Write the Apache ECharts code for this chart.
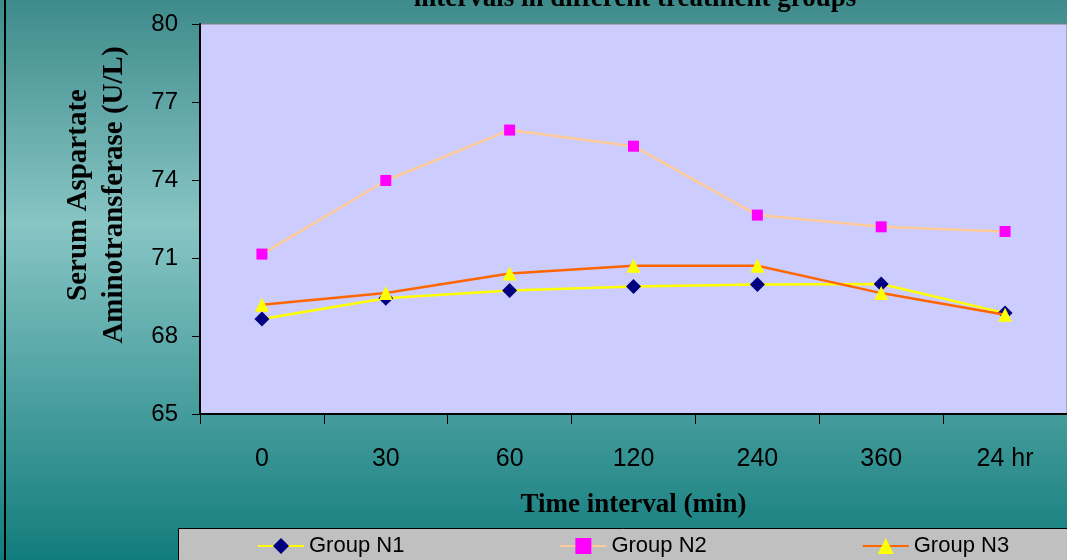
<!DOCTYPE html>
<html><head><meta charset="utf-8">
<script src="https://cdn.jsdelivr.net/npm/echarts@6/dist/echarts.min.js"></script>
<style>html,body{margin:0;padding:0;}#c{width:1067px;height:560px;}</style>
</head><body><div id="c"></div>
<script>
const categories = ['0', '30', '60', '120', '240', '360', '24 hr'];
const groupN1 = [68.65, 69.45, 69.75, 69.9, 69.98, 70.0, 68.88];
const groupN2 = [71.15, 73.98, 75.92, 75.3, 72.65, 72.2, 72.02];
const groupN3 = [69.2, 69.65, 70.4, 70.7, 70.7, 69.65, 68.82];
const yMin = 65, yMax = 80, yStep = 3;
const titleText = 'intervals in different treatment groups';
const yName = 'Serum Aspartate\nAminotransferase (U/L)';
const xName = 'Time interval (min)';

const chart = echarts.init(document.getElementById('c'));
chart.setOption({
  animation: false,
  backgroundColor: {
    type: 'linear', x: 0, y: 0, x2: 0, y2: 1,
    colorStops: [
      {offset: 0, color: '#3E8B8B'},
      {offset: 0.4, color: '#88C5C5'},
      {offset: 1, color: '#127C7C'}
    ]
  },
  title: {
    text: titleText, left: 630, textAlign: 'center', top: -19,
    textStyle: {fontFamily: 'Liberation Serif', fontWeight: 'bold', fontSize: 27, color: '#000'}
  },
  graphic: [
    {type: 'line', shape: {x1: 5, y1: 0, x2: 5, y2: 560}, style: {stroke: '#000', lineWidth: 2}, z: 10},
    {type: 'rect', shape: {x: 178.5, y: 528.5, width: 1000, height: 60}, style: {fill: '#C0C0C0', stroke: '#000', lineWidth: 1}, z: -1}
  ],
  grid: {
    left: 200, right: 0, top: 24, bottom: 146,
    show: true, backgroundColor: '#CCCCFF', borderColor: '#808080', borderWidth: 1
  },
  legend: {
    left: 178, top: 529,
    padding: [6, 5, 12, 79],
    itemWidth: 46, itemHeight: 20, itemGap: 155,
    textStyle: {fontFamily: 'Liberation Sans', fontSize: 22, color: '#000'},
    data: ['Group N1', 'Group N2', 'Group N3']
  },
  xAxis: {
    type: 'category', data: categories, boundaryGap: true,
    name: xName, nameLocation: 'middle', nameGap: 78,
    nameTextStyle: {fontFamily: 'Liberation Serif', fontWeight: 'bold', fontSize: 27, color: '#000'},
    axisLine: {lineStyle: {color: '#000', width: 2}},
    axisTick: {show: true, length: 10, lineStyle: {color: '#000', width: 1}},
    axisLabel: {margin: 33, fontFamily: 'Liberation Sans', fontSize: 25, color: '#000'},
    splitLine: {show: false}
  },
  yAxis: {
    type: 'value', min: yMin, max: yMax, interval: yStep,
    name: yName, nameLocation: 'middle', nameGap: 67, nameRotate: 90,
    nameTextStyle: {fontFamily: 'Liberation Serif', fontWeight: 'bold', fontSize: 29, color: '#000', lineHeight: 36, padding: [0, 0, 0, 48]},
    axisLine: {show: true, lineStyle: {color: '#000', width: 2}},
    axisTick: {show: true, length: 8, lineStyle: {color: '#000'}},
    axisLabel: {margin: 22, fontFamily: 'Liberation Sans', fontSize: 24, color: '#000'},
    splitLine: {show: false}
  },
  series: [
    {name: 'Group N1', type: 'line', data: groupN1, symbol: 'diamond', symbolSize: 15,
      lineStyle: {color: '#FFFF00', width: 2.5}, itemStyle: {color: '#000080'}, z: 3},
    {name: 'Group N2', type: 'line', data: groupN2, symbol: 'rect', symbolSize: 11,
      lineStyle: {color: '#FFCC99', width: 2.5}, itemStyle: {color: '#FF00FF'}, z: 2},
    {name: 'Group N3', type: 'line', data: groupN3, symbol: 'triangle', symbolSize: 14,
      lineStyle: {color: '#FF6600', width: 2.5}, itemStyle: {color: '#FFFF00'}, z: 4}
  ]
});
</script></body></html>
